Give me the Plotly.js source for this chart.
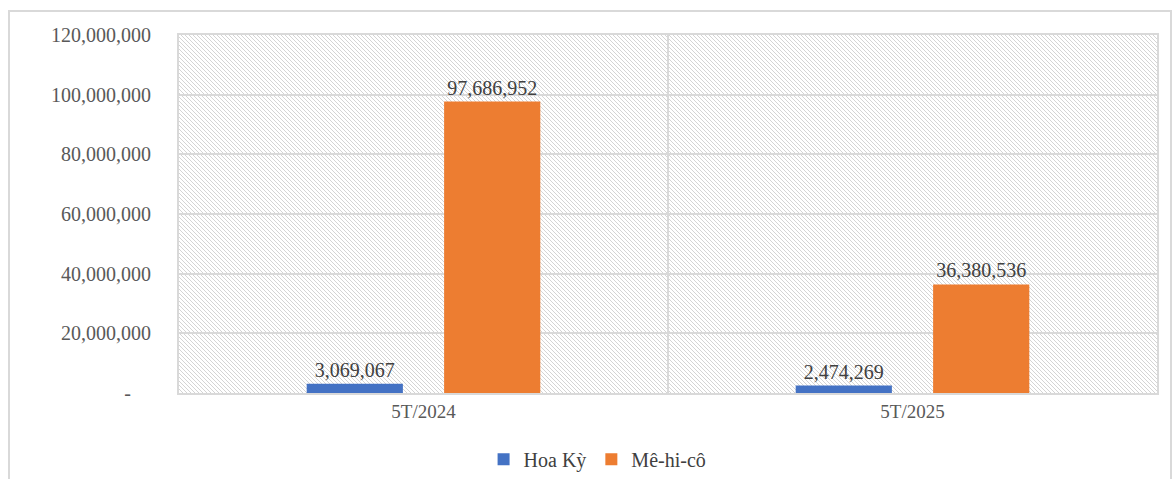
<!DOCTYPE html>
<html>
<head>
<meta charset="utf-8">
<script src="https://cdn.plot.ly/plotly-3.0.1.min.js"></script>
<style>
  html, body { margin: 0; padding: 0; background: #ffffff; overflow: hidden; }
  #frame { position: absolute; left: 8px; top: 10px; width: 1160px; height: 490px; border: 2px solid #d9d9d9; border-bottom: none; }
  #chart { width: 1160px; height: 481px; }
</style>
</head>
<body>
<div id="frame"><div id="chart"></div></div>
<script>
const categories = ["5T/2024", "5T/2025"];
const seriesNames = ["Hoa Kỳ", "Mê-hi-cô"];
const hoaKy = [3069067, 2474269];
const mexico = [97686952, 36380536];
const yTickVals = [0, 20000000, 40000000, 60000000, 80000000, 100000000, 120000000];
const yTickText = ["-\u00a0\u00a0\u00a0\u00a0", "20,000,000", "40,000,000", "60,000,000", "80,000,000", "100,000,000", "120,000,000"];

const serif = "Liberation Serif, Times New Roman, serif";
const fmt = v => v.toLocaleString("en-US");

const traces = [
  {
    type: "bar", name: seriesNames[0], x: categories, y: hoaKy,
    marker: { color: "#4472C4" },
    text: hoaKy.map(fmt), textposition: "outside", cliponaxis: false,
    textfont: { family: serif, size: 20, color: "#404040" },
    hoverinfo: "skip"
  },
  {
    type: "bar", name: seriesNames[1], x: categories, y: mexico,
    marker: { color: "#ED7D31" },
    text: mexico.map(fmt), textposition: "outside", cliponaxis: false,
    textfont: { family: serif, size: 20, color: "#404040" },
    hoverinfo: "skip"
  }
];

const layout = {
  width: 1160, height: 481,
  margin: { l: 169, r: 13, t: 23, b: 100 },
  paper_bgcolor: "#ffffff",
  plot_bgcolor: "#ffffff",
  barmode: "group",
  bargap: 0.438,
  bargroupgap: 0.30,
  showlegend: true,
  legend: {
    orientation: "h", x: 0.428, xanchor: "center", y: -0.185, yanchor: "middle",
    font: { family: serif, size: 20, color: "#404040" },
    itemwidth: 30, traceorder: "normal"
  },
  xaxis: {
    type: "category",
    tickson: "boundaries",
    showgrid: true, gridcolor: "#d9d9d9", gridwidth: 2,
    showline: true, mirror: true, linecolor: "#d9d9d9", linewidth: 2,
    ticks: "", ticklen: 0,
    tickfont: { family: serif, size: 19, color: "#595959" },
    zeroline: false
  },
  yaxis: {
    range: [0, 120000000],
    tickvals: yTickVals, ticktext: yTickText,
    showgrid: true, gridcolor: "#d9d9d9", gridwidth: 2,
    showline: true, mirror: true, linecolor: "#d9d9d9", linewidth: 2,
    ticks: "outside", ticklen: 22, tickcolor: "rgba(0,0,0,0)",
    tickfont: { family: serif, size: 20, color: "#595959" },
    zeroline: false
  }
};

function addHatch(gd) {
  const ns = "http://www.w3.org/2000/svg";
  const svg = gd.querySelector("svg.main-svg");
  let defs = svg.querySelector("defs");
  if (!defs) { defs = document.createElementNS(ns, "defs"); svg.insertBefore(defs, svg.firstChild); }
  if (!document.getElementById("hatchbg")) {
    const pat = document.createElementNS(ns, "pattern");
    pat.setAttribute("id", "hatchbg");
    pat.setAttribute("patternUnits", "userSpaceOnUse");
    pat.setAttribute("width", "4");
    pat.setAttribute("height", "4");
    const bgr = document.createElementNS(ns, "rect");
    bgr.setAttribute("width", "4"); bgr.setAttribute("height", "4"); bgr.setAttribute("fill", "#ffffff");
    pat.appendChild(bgr);
    const p = document.createElementNS(ns, "path");
    p.setAttribute("d", "M-1,3 l2,2 M0,0 l4,4 M3,-1 l2,2");
    p.setAttribute("stroke", "#d4d4d4");
    p.setAttribute("stroke-width", "1");
    pat.appendChild(p);
    defs.appendChild(pat);
  }
  const xa = gd._fullLayout.xaxis, ya = gd._fullLayout.yaxis;
  const sub = svg.querySelector(".cartesianlayer .subplot") || svg.querySelector(".cartesianlayer");
  const r = document.createElementNS(ns, "rect");
  r.setAttribute("x", xa._offset);
  r.setAttribute("y", ya._offset);
  r.setAttribute("width", xa._length);
  r.setAttribute("height", ya._length);
  r.setAttribute("fill", "url(#hatchbg)");
  sub.insertBefore(r, sub.firstChild);
}

Plotly.newPlot("chart", traces, layout, { displayModeBar: false, staticPlot: true }).then(addHatch);
</script>
</body>
</html>
